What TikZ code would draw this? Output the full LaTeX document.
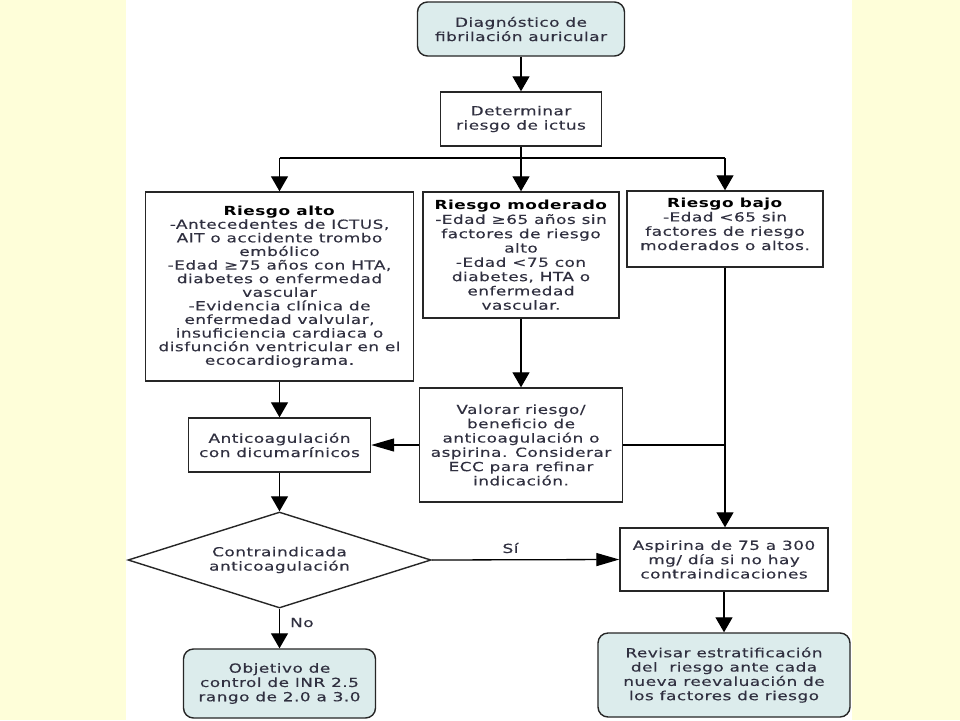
\documentclass[tikz,border=0pt]{standalone}
\usepackage{fontspec}
\setmainfont{DejaVu Sans}[FakeStretch=1.35,LetterSpace=4,UprightFeatures={FakeBold=0.3}]
\usetikzlibrary{shapes.geometric,arrows.meta}
\definecolor{bgyellow}{HTML}{FEFED9}
\definecolor{txt}{HTML}{303040}
\definecolor{endfill}{HTML}{DCECEC}
\begin{document}
\begin{tikzpicture}[x=1pt,y=-1pt,
  every node/.style={font=\fontsize{12.5}{14.3}\selectfont, text=txt, align=center, inner sep=0pt},
  box/.style 2 args={draw=black!85, line width=1.4pt, minimum width=#1pt, minimum height=#2pt},
  endbox/.style 2 args={box={#1}{#2}, fill=endfill, rounded corners=10pt},
  conn/.style={line width=1.3pt, draw=black},
  varr/.style={conn, -{Triangle[length=15pt,width=17pt]}},
  harr/.style={conn, -{Triangle[length=23pt,width=13pt]}}]
\fill[bgyellow] (0,0) rectangle (960,720);
\fill[white] (126,0) rectangle (852,720);
\useasboundingbox (0,0) rectangle (960,720);

\node[endbox={207}{54}] (diag) at (521,29) {Diagnóstico de\\fibrilación auricular};
\node[box={161}{54}] (det) at (521,119) {Determinar\\riesgo de ictus};
\node[box={268}{189}, font=\fontsize{12.5}{13.6}\selectfont] (alto) at (279.5,286.5) {\textcolor{black}{\textbf{Riesgo alto}}\\-Antecedentes de ICTUS,\\AIT o accidente trombo\\embólico\\-Edad ≥75 años con HTA,\\diabetes o enfermedad\\vascular\\-Evidencia clínica de\\enfermedad valvular,\\insuficiencia cardiaca o\\disfunción ventricular en el\\ecocardiograma.};
\node[box={196}{126}] (mod) at (521,255) {\textcolor{black}{\textbf{Riesgo moderado}}\\-Edad ≥65 años sin\\factores de riesgo\\alto\\-Edad <75 con\\diabetes, HTA o\\enfermedad\\vascular.};
\node[box={196}{76}] (bajo) at (725,229) {\textcolor{black}{\textbf{Riesgo bajo}}\\-Edad <65 sin\\factores de riesgo\\moderados o altos.\\[-4pt]};
\node[box={203}{114}] (val) at (521,445) {Valorar riesgo/\\beneficio de\\anticoagulación o\\aspirina. Considerar\\ECC para refinar\\indicación.};
\node[box={182}{54}] (anti) at (279.5,445) {Anticoagulación\\con dicumarínicos};
\node[diamond, draw=black!85, line width=1.4pt, minimum width=303pt, minimum height=96pt, aspect=3.1] (dia) at (279.5,560) {Contraindicada\\anticoagulación};
\node[box={208}{63}] (asp) at (724,559.5) {Aspirina de 75 a 300\\mg/ día si no hay\\contraindicaciones};
\node[endbox={252}{84}] (rev) at (724,675) {Revisar estratificación\\del\ \ riesgo ante cada\\nueva reevaluación de\\los factores de riesgo};
\node[endbox={192}{69}] (obj) at (279.5,683.5) {Objetivo de\\control de INR 2.5\\rango de 2.0 a 3.0};

\coordinate (j0) at (521,158);
\coordinate (jL) at (279.5,158);
\coordinate (jR) at (725,158);

\draw[varr] (diag) -- (det);
\draw[conn] (det.south) -- (j0);
\draw[conn] (jL) -- (jR);
\draw[varr] (jL) -- (alto.north);
\draw[varr] (j0) -- (mod.north);
\draw[varr] (jR) -- (bajo.north);
\draw[varr] (mod.south) -- (val.north);
\draw[varr] (alto.south) -- (anti.north);
\draw[harr] (val.west) -- (anti.east);
\draw[conn] (val.east) -- (bajo.south |- val.east);
\draw[varr] (bajo.south) -- (bajo.south |- asp.north);
\draw[varr] (anti.south) -- (dia.north);
\draw[harr] (dia.east) -- node[pos=0.42, above=6pt] {Sí} (asp.west);
\draw[varr] (dia.south) -- node[pos=0.35, right=10pt] {No} (obj.north);
\draw[varr] (asp.south) -- (rev.north);
\end{tikzpicture}
\end{document}
